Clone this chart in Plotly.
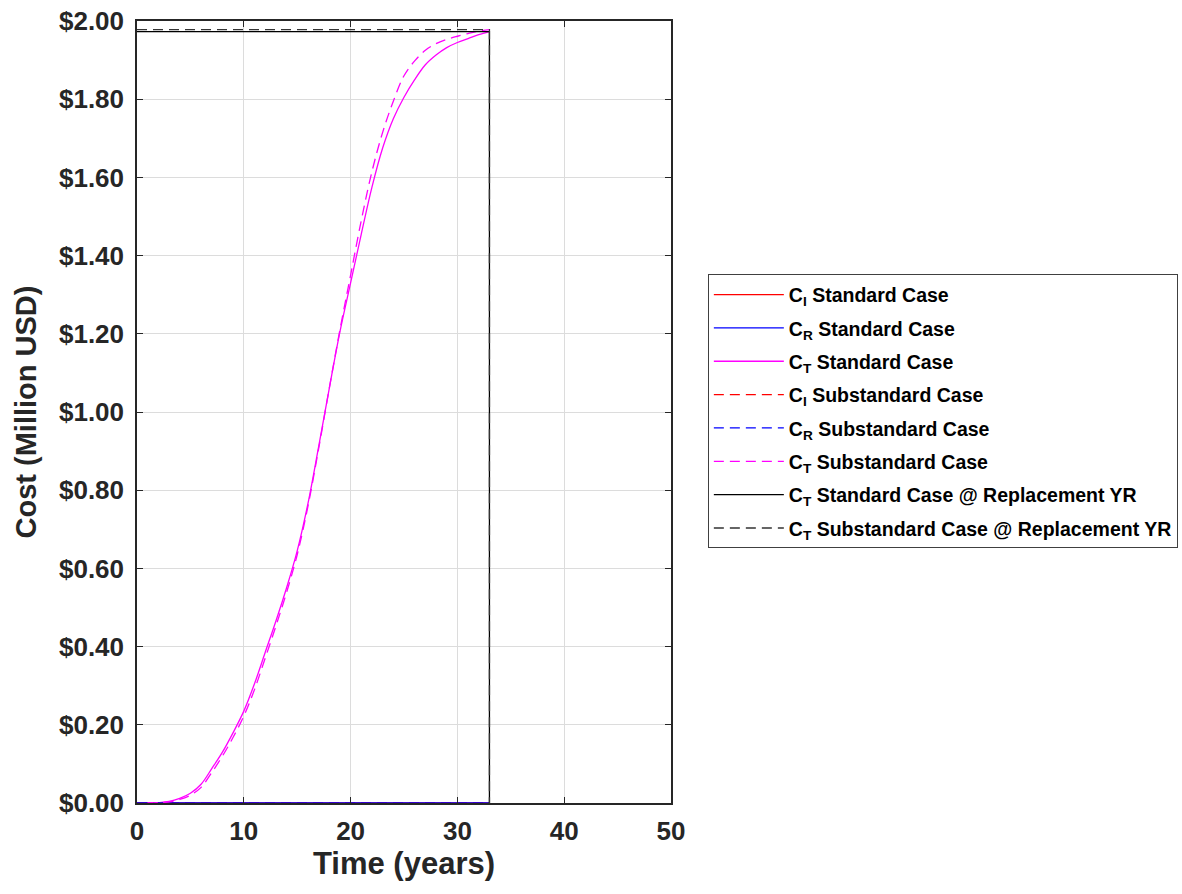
import plotly.graph_objects as go

# ---------------- data ----------------
years = list(range(0, 34))
years_t = list(range(1, 34))

ci_standard = [0.0] * 34
cr_standard = [0.0] * 34
ci_substandard = [0.0] * 34
cr_substandard = [0.0] * 34

ct_standard = [0.000, 0.001, 0.004, 0.012, 0.025, 0.048, 0.088, 0.130, 0.180, 0.235,
               0.305, 0.385, 0.465, 0.550, 0.645, 0.765, 0.910, 1.060, 1.205, 1.330,
               1.455, 1.575, 1.675, 1.750, 1.805, 1.850, 1.888, 1.913, 1.932, 1.945,
               1.955, 1.965, 1.973]
ct_substandard = [0.000, 0.001, 0.003, 0.009, 0.020, 0.040, 0.078, 0.120, 0.168, 0.222,
                  0.290, 0.370, 0.452, 0.538, 0.635, 0.758, 0.905, 1.060, 1.210, 1.350,
                  1.490, 1.615, 1.715, 1.795, 1.860, 1.898, 1.925, 1.942, 1.953, 1.961,
                  1.968, 1.974, 1.978]

replacement_year = 33

x_ticks = [0, 10, 20, 30, 40, 50]
y_ticks = [0.0, 0.2, 0.4, 0.6, 0.8, 1.0, 1.2, 1.4, 1.6, 1.8, 2.0]
y_tick_labels = ["$0.00", "$0.20", "$0.40", "$0.60", "$0.80", "$1.00",
                 "$1.20", "$1.40", "$1.60", "$1.80", "$2.00"]

# ---------------- figure ----------------
RED = "#ff0000"
BLUE = "#0000ff"
MAG = "#ff00ff"
BLACK = "#000000"
DASH = "10px,6px"

fig = go.Figure()

def add(x, y, name, color, dash, group, smooth=False):
    line = dict(color=color, width=1.3, dash=dash)
    if smooth:
        line.update(shape="spline", smoothing=1.0)
    fig.add_trace(go.Scatter(x=x, y=y, mode="lines", name=name,
                             legendgroup=group, line=line))

add(years, ci_standard, "C<sub>I</sub> Standard Case", RED, "solid", "g1")
add(years, cr_standard, "C<sub>R</sub> Standard Case", BLUE, "solid", "g2")
add(years_t, ct_standard, "C<sub>T</sub> Standard Case", MAG, "solid", "g3", True)
add(years, ci_substandard, "C<sub>I</sub> Substandard Case", RED, DASH, "g4")
add(years, cr_substandard, "C<sub>R</sub> Substandard Case", BLUE, DASH, "g5")
add(years_t, ct_substandard, "C<sub>T</sub> Substandard Case", MAG, DASH, "g6", True)

v_std = ct_standard[-1]
v_sub = ct_substandard[-1]
add([0, replacement_year, replacement_year], [v_std, v_std, 0],
    "C<sub>T</sub> Standard Case @ Replacement YR", BLACK, "solid", "g7")
add([0, replacement_year, replacement_year], [v_sub, v_sub, 0],
    "C<sub>T</sub> Substandard Case @ Replacement YR", "#333333", DASH, "g8")

AX = "#262626"
GRID = "#dcdcdc"
FONT = "Liberation Sans, Arial, sans-serif"

fig.update_layout(
    width=1182, height=894,
    margin=dict(l=137, r=511, t=21, b=91, autoexpand=False),
    paper_bgcolor="white", plot_bgcolor="white",
    font=dict(family=FONT, color=AX),
    showlegend=True,
    legend=dict(
        x=1.069, y=0.676, xanchor="left", yanchor="top",
        bgcolor="white", bordercolor="#404040", borderwidth=1,
        font=dict(family=FONT, size=19.5, color=BLACK, weight="bold"),
        itemwidth=70, tracegroupgap=5,
    ),
    xaxis=dict(
        range=[0, 50], tickmode="array", tickvals=x_ticks,
        showgrid=True, gridcolor=GRID, gridwidth=1,
        showline=True, linecolor=AX, linewidth=1.5, mirror="ticks",
        ticks="inside", ticklen=6, tickcolor=AX, ticklabelstandoff=4,
        tickfont=dict(family=FONT, size=26, color=AX, weight="bold"),
        title=dict(text="Time (years)", standoff=6,
                   font=dict(family=FONT, size=31, color=AX, weight="bold")),
        zeroline=False,
    ),
    yaxis=dict(
        range=[0, 2], tickmode="array", tickvals=y_ticks, ticktext=y_tick_labels,
        showgrid=True, gridcolor=GRID, gridwidth=1,
        showline=True, linecolor=AX, linewidth=1.5, mirror="ticks",
        ticks="inside", ticklen=6, tickcolor=AX, ticklabelstandoff=6,
        tickfont=dict(family=FONT, size=26, color=AX, weight="bold"),
        title=dict(text="Cost (Million USD)", standoff=14,
                   font=dict(family=FONT, size=29, color=AX, weight="bold")),
        zeroline=False,
    ),
)

fig.write_html("out.html")
